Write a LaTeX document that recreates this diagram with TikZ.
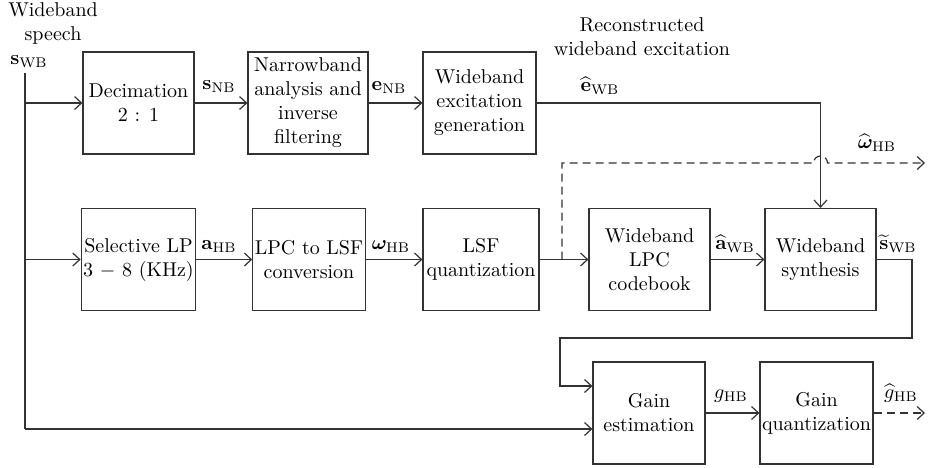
\documentclass[tikz,border=0pt]{standalone}
\usepackage{bm}
\usetikzlibrary{arrows.meta}
\begin{document}
\begin{tikzpicture}[x=0.5pt,y=-0.5pt,
  blk/.style={draw=black!80, line width=0.6pt, align=center, inner sep=1pt, minimum height=51pt},
  wire/.style={draw=black!80, line width=0.6pt},
  arr/.style={wire, -{Straight Barb[length=3.5pt,width=6.5pt]}},
  dsh/.style={dash pattern=on 4pt off 2.5pt},
  lbl/.style={inner sep=0pt}]
\useasboundingbox (0,0) rectangle (932,467);

% blocks
\node[blk, minimum width=55.5pt] (dec)  at (138.5,103) {Decimation\\2 : 1};
\node[blk, minimum width=60pt]   (nb)   at (308,103)   {Narrowband\\analysis and\\inverse\\filtering};
\node[blk, minimum width=56.5pt] (wex)  at (479.5,103) {Wideband\\excitation\\generation};
\node[blk, minimum width=55.5pt] (slp)  at (138.5,259.5) {Selective LP\\3 $-$ 8 (KHz)};
\node[blk, minimum width=56pt]   (l2l)  at (309,259.5) {LPC to LSF\\conversion};
\node[blk, minimum width=58pt]   (lsfq) at (481,259.5) {LSF\\quantization};
\node[blk, minimum width=60.5pt] (wlpc) at (649.5,259.5) {Wideband\\LPC\\codebook};
\node[blk, minimum width=55.5pt] (wsyn) at (820.5,259.5) {Wideband\\synthesis};
\node[blk, minimum width=56pt]   (gest) at (649,413) {Gain\\estimation};
\node[blk, minimum width=56.5pt] (gq)   at (816.5,413) {Gain\\quantization};

% text labels
\node[lbl, align=center] (tin) at (53,23) {Wideband\\speech};
\node[lbl] (lsWB) at (29,62) {$\mathbf{s}_{\mathrm{WB}}$};
\node[lbl] (lsNB) at (219,87) {$\mathbf{s}_{\mathrm{NB}}$};
\node[lbl] (leNB) at (389,88) {$\mathbf{e}_{\mathrm{NB}}$};
\node[lbl, align=center] (trec) at (642,37) {Reconstructed\\wideband excitation};
\node[lbl] (leWB) at (600,86) {$\widehat{\mathbf{e}}_{\mathrm{WB}}$};
\node[lbl] (lwHBh) at (877,143) {$\widehat{\bm{\omega}}_{\mathrm{HB}}$};
\node[lbl] (laHB) at (219,247) {$\mathbf{a}_{\mathrm{HB}}$};
\node[lbl] (lwHB) at (391,247) {$\bm{\omega}_{\mathrm{HB}}$};
\node[lbl] (laWB) at (735,244) {$\widehat{\mathbf{a}}_{\mathrm{WB}}$};
\node[lbl] (lsWBt) at (898,244) {$\widetilde{\mathbf{s}}_{\mathrm{WB}}$};
\node[lbl] (lgHB) at (731,396) {$g_{\mathrm{HB}}$};
\node[lbl] (lgHBh) at (901,393) {$\widehat{g}_{\mathrm{HB}}$};

% coordinates
\coordinate (top) at (25,73);
\coordinate (bot) at (25,429);
\coordinate (br) at (562,259.5);
\coordinate (dcorner) at (562,163);
\coordinate (jl) at (813.5,163);
\coordinate (wout) at (925,163);
\coordinate (f1) at (912,259.5);
\coordinate (f2) at (912,338);
\coordinate (f3) at (560,338);
\coordinate (f4) at (560,386);
\coordinate (gout) at (925,413);

% input bus
\draw[wire] (top) -- (bot);
\draw[arr] (top |- dec.west) -- (dec.west);
\draw[arr] (top |- slp.west) -- (slp.west);
\draw[arr] (bot) -- (bot -| gest.west);

% top row
\draw[arr] (dec) -- (nb);
\draw[arr] (nb) -- (wex);
\draw[arr] (wex.east) -| (wsyn.north);

% middle row
\draw[arr] (slp) -- (l2l);
\draw[arr] (l2l) -- (lsfq);
\draw[arr] (lsfq) -- (wlpc);
\draw[arr] (wlpc) -- (wsyn);
\draw[arr, dsh] (br) -- (dcorner) -- (jl) arc[start angle=180, end angle=0, radius=3.5pt] -- (wout);

% feedback to gain estimation
\draw[arr] (wsyn.east) -- (f1) -- (f2) -- (f3) -- (f4) -- (f4 -| gest.west);

% bottom row
\draw[arr] (gest) -- (gq);
\draw[arr, dsh] (gq.east) -- (gout);
\end{tikzpicture}
\end{document}
